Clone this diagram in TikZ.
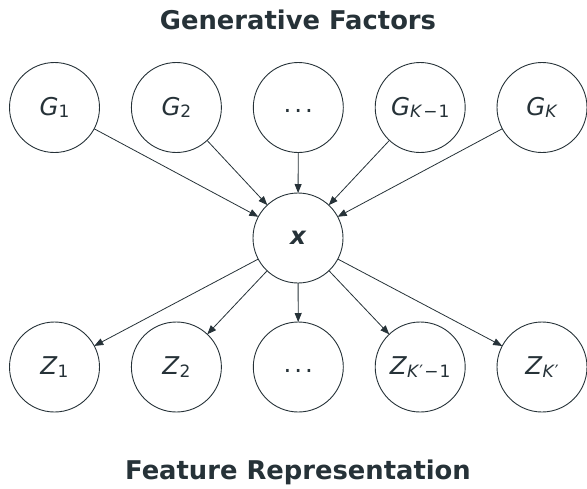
\documentclass[tikz,border=0pt]{standalone}
\usepackage{fontspec}
\setmainfont{DejaVu Sans}
\usetikzlibrary{arrows.meta}
\definecolor{ink}{HTML}{263238}
\newcommand\mysb[1]{\raisebox{-2.6pt}{\fontsize{17}{17}\selectfont #1}}
\newcommand\mydots{\smash{\raisebox{-12pt}{·\kern3pt·\kern3pt·}}}
\begin{document}
\begin{tikzpicture}[x=1pt,y=-1pt,
  var/.style={circle,draw=ink,line width=0.9pt,minimum size=90pt,inner sep=0pt,outer sep=0pt,
    text=ink,font=\fontsize{24.5}{24.5}\selectfont},
  ttl/.style={anchor=base,text=ink,inner sep=0pt,font=\fontsize{25.8}{25.8}\selectfont\bfseries},
  edge/.style={draw=ink,line width=0.8pt,-{Triangle[length=9pt,width=7pt]}}]
\useasboundingbox (0,0) rectangle (587,488);
\node[ttl] (t1) at (298,29.5) {Generative Factors};
\node[ttl] (t2) at (298,479) {Feature Representation};
\node[var] (g1) at (54.5,107.5) {\textit{G}\mysb{1}};
\node[var] (g2) at (176.4,107.5) {\textit{G}\mysb{2}};
\node[var] (g3) at (298.3,107.5) {\mydots};
\node[var] (g4) at (420.2,107.5) {\textit{G}\mysb{\textit{K}\kern1pt−\kern1pt1}};
\node[var] (g5) at (542,107.5) {\textit{G}\mysb{\textit{K}}};
\node[var] (x) at (298,238) {\bfseries\itshape x};
\node[var] (z1) at (54.5,367) {\textit{Z}\mysb{1}};
\node[var] (z2) at (176.4,367) {\textit{Z}\mysb{2}};
\node[var] (z3) at (298.3,367) {\mydots};
\node[var] (z4) at (420.2,367) {\textit{Z}\mysb{\textit{K}′\kern1pt−\kern1pt1}};
\node[var] (z5) at (542,367) {\textit{Z}\mysb{\textit{K}′}};
\foreach \n in {g1,g2,g3,g4,g5} \draw[edge] (\n) -- (x);
\foreach \n in {z1,z2,z3,z4,z5} \draw[edge] (x) -- (\n);
\end{tikzpicture}
\end{document}
